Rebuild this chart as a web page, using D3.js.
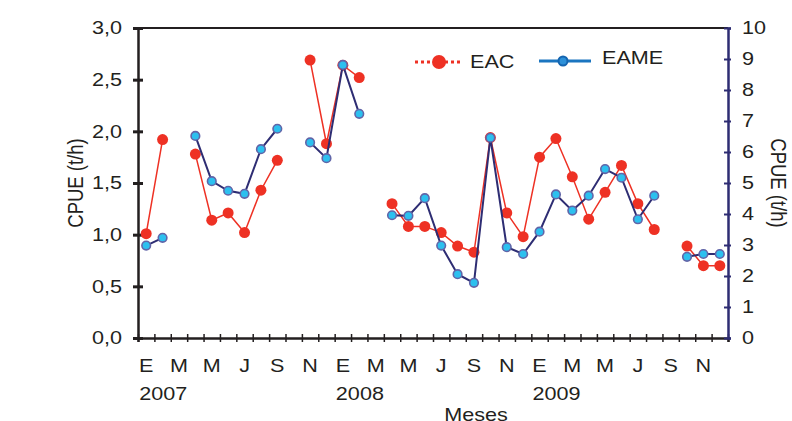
<!DOCTYPE html>
<html>
<head>
<meta charset="utf-8">
<script src="https://cdn.jsdelivr.net/npm/d3@7"></script>
<style>
  body { margin: 0; background: #fff; }
  text { font-family: "Liberation Sans", Arial, sans-serif; fill: #231f20; }
</style>
</head>
<body>
<div id="chart"></div>
<script>
// months Jan 2007 .. Dec 2009 (36), null = no sampling
let monthLetters = ["E", "M", "M", "J", "S", "N"];
let years = ["2007", "2008", "2009"];

// EAC, left axis (t/h)
let eac = [1.01, 1.92, null, 1.78, 1.14, 1.21, 1.02, 1.43, 1.72, null, 2.69, 1.88,
           2.64, 2.52, null, 1.30, 1.08, 1.08, 1.02, 0.89, 0.83, 1.94, 1.21, 0.98,
           1.75, 1.93, 1.56, 1.15, 1.41, 1.67, 1.30, 1.05, null, 0.89, 0.70, 0.70];

// EAME, right axis (t/h)
let eame = [2.98, 3.23, null, 6.52, 5.06, 4.75, 4.65, 6.09, 6.75, null, 6.31, 5.80,
            8.81, 7.23, null, 3.96, 3.94, 4.51, 2.98, 2.06, 1.78, 6.46, 2.93, 2.71,
            3.43, 4.63, 4.11, 4.59, 5.45, 5.17, 3.83, 4.59, null, 2.62, 2.71, 2.71];

let leftTicks = [0, 0.5, 1, 1.5, 2, 2.5, 3];
let rightTicks = [0, 1, 2, 3, 4, 5, 6, 7, 8, 9, 10];

let width = 792, height = 421;
let margin = {top: 28, right: 64, bottom: 83, left: 138};
let sx = 1.2; // text in the original is a bit wide

let svg = d3.select("#chart").append("svg")
    .attr("width", width)
    .attr("height", height);

let x = d3.scaleLinear().domain([0, 36]).range([margin.left, width - margin.right]);
let yL = d3.scaleLinear().domain([0, 3]).range([height - margin.bottom, margin.top]);
let yR = d3.scaleLinear().domain([0, 10]).range([height - margin.bottom, margin.top]);

let red = "#ee3124";
let navy = "#2e2d73";

// helper for wide text
function label(g, tx, ty, str, anchor) {
    return g.append("text")
        .attr("transform", "translate(" + tx + "," + ty + ") scale(" + sx + ",1)")
        .attr("text-anchor", anchor || "start")
        .style("font-size", "18px")
        .text(str);
}

// top border
svg.append("line")
    .attr("x1", x(0)).attr("x2", x(36))
    .attr("y1", yL(3)).attr("y2", yL(3))
    .attr("stroke", "#231f20").attr("stroke-width", 2);

// bottom axis, ticks at month boundaries
let xAxis = svg.append("g")
    .attr("transform", "translate(0," + yL(0) + ")")
    .call(d3.axisBottom(x).tickValues(d3.range(0, 37)).tickSize(4).tickFormat(""));
xAxis.select(".domain").attr("stroke", "#231f20").attr("stroke-width", 2.5);
xAxis.selectAll(".tick line").attr("y1", -4).attr("stroke", "#231f20").attr("stroke-width", 1.5);

// month letters every two months
d3.range(0, 36, 2).forEach((m, i) => {
    label(svg, x(m + 0.5), 372, monthLetters[i % 6], "middle");
});

years.forEach((yr, i) => {
    label(svg, x(i * 12 + 0.5) - 7, 400, yr);
});

label(svg, 476, 421, "Meses", "middle");

// left axis
let leftAxis = svg.append("g")
    .attr("transform", "translate(" + margin.left + ",0)")
    .call(d3.axisLeft(yL).tickValues(leftTicks).tickSize(5).tickPadding(11)
        .tickFormat(d => d3.format(".1f")(d).replace(".", ",")));
leftAxis.select(".domain").attr("stroke", "#231f20").attr("stroke-width", 2.5);
leftAxis.selectAll(".tick line").attr("x2", 5).attr("x1", -5).attr("stroke", "#231f20").attr("stroke-width", 3);
leftAxis.selectAll(".tick text")
    .style("font-size", "18px").style("font-family", null).attr("fill", "#231f20")
    .attr("x", -16 / sx).attr("transform", "scale(" + sx + ",1)");

// right axis
let rightAxis = svg.append("g")
    .attr("transform", "translate(" + (width - margin.right) + ",0)")
    .call(d3.axisRight(yR).tickValues(rightTicks).tickSize(3).tickPadding(11));
rightAxis.select(".domain").attr("stroke", navy).attr("stroke-width", 2.5);
rightAxis.selectAll(".tick line").attr("x1", -4).attr("stroke", navy).attr("stroke-width", 2);
rightAxis.selectAll(".tick text")
    .style("font-size", "18px").style("font-family", null).attr("fill", "#231f20")
    .attr("x", 14 / sx).attr("transform", "scale(" + sx + ",1)");

// axis titles
svg.append("text")
    .attr("transform", "translate(83," + yL(1.5) + ") rotate(-90) scale(1," + sx + ")")
    .attr("text-anchor", "middle")
    .style("font-size", "18.5px")
    .text("CPUE (t/h)");

svg.append("text")
    .attr("transform", "translate(771," + yL(1.5) + ") rotate(90) scale(1," + sx + ")")
    .attr("text-anchor", "middle")
    .style("font-size", "18.5px")
    .text("CPUE (t/h)");

// EAC line + points
let lineL = d3.line()
    .defined(d => d !== null)
    .x((d, i) => x(i + 0.5))
    .y(d => yL(d));

svg.append("path")
    .datum(eac)
    .attr("d", lineL)
    .attr("fill", "none")
    .attr("stroke", red)
    .attr("stroke-width", 1.5);

svg.append("g").selectAll("circle")
    .data(eac.map((v, i) => ({v: v, i: i})).filter(d => d.v !== null))
    .enter().append("circle")
    .attr("cx", d => x(d.i + 0.5))
    .attr("cy", d => yL(d.v))
    .attr("r", 5.5)
    .attr("fill", red);

// EAME line + points
let lineR = d3.line()
    .defined(d => d !== null)
    .x((d, i) => x(i + 0.5))
    .y(d => yR(d));

svg.append("path")
    .datum(eame)
    .attr("d", lineR)
    .attr("fill", "none")
    .attr("stroke", navy)
    .attr("stroke-width", 2);

svg.append("g").selectAll("circle")
    .data(eame.map((v, i) => ({v: v, i: i})).filter(d => d.v !== null))
    .enter().append("circle")
    .attr("cx", d => x(d.i + 0.5))
    .attr("cy", d => yR(d.v))
    .attr("r", 4.3)
    .attr("fill", "#2cc0ef")
    .attr("stroke", "#6165a8")
    .attr("stroke-width", 1.6);

// legend
let legend = svg.append("g");
legend.append("line")
    .attr("x1", 415).attr("x2", 461).attr("y1", 62).attr("y2", 62)
    .attr("stroke", red).attr("stroke-width", 3).attr("stroke-dasharray", "3,3");
legend.append("circle").attr("cx", 439).attr("cy", 62).attr("r", 7).attr("fill", red);
label(legend, 470, 68, "EAC");

legend.append("line")
    .attr("x1", 539).attr("x2", 591).attr("y1", 61).attr("y2", 61)
    .attr("stroke", "#1a75c0").attr("stroke-width", 3);
legend.append("circle").attr("cx", 563).attr("cy", 61).attr("r", 4.5)
    .attr("fill", "#2d90d8").attr("stroke", "#1565b0").attr("stroke-width", 2);
label(legend, 602, 64, "EAME");
</script>
</body>
</html>
